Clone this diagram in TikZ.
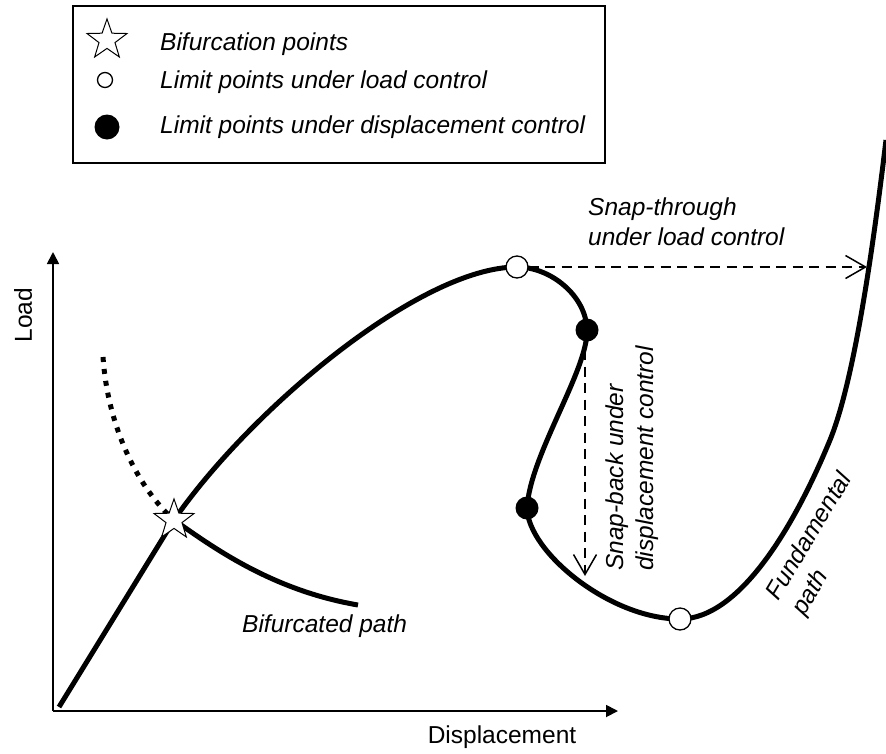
\documentclass[tikz,border=0pt]{standalone}
\usepackage{fontspec}
\setmainfont{Liberation Sans}
\usetikzlibrary{arrows.meta,shapes.geometric}
\begin{document}
\begin{tikzpicture}[x=1pt,y=-1pt,
  curve/.style={line width=5pt},
  axisline/.style={line width=1.8pt,-{Triangle[length=12pt,width=12pt]}},
  snaparrow/.style={line width=1.5pt,dash pattern=on 10pt off 6.5pt,-{Straight Barb[length=20pt,width=23pt,line width=1.5pt]}},
  hollowpt/.style={circle,draw,line width=1.3pt,fill=white,minimum size=22pt,inner sep=0pt},
  filledpt/.style={circle,fill=black,minimum size=23pt,inner sep=0pt},
  starpt/.style={star,star points=5,star point ratio=2.5,draw,fill=white,line width=1pt,minimum size=42pt,inner sep=0pt},
  lbl/.style={font=\fontsize{24.5}{30}\selectfont\itshape,inner sep=0pt},
  axlbl/.style={font=\fontsize{24.5}{30}\selectfont,inner sep=0pt}
]
\useasboundingbox (0,0) rectangle (886,753);
% legend
\draw[line width=1.3pt] (73,6) rectangle (605,163);
\node[starpt] (lstar) at (107,40) {};
\node[hollowpt,minimum size=15pt] (lhollow) at (105,80) {};
\node[filledpt,minimum size=25pt] (lfilled) at (107,127) {};
\node[lbl,anchor=base west] (t1) at (160,50) {Bifurcation points};
\node[lbl,anchor=base west] (t2) at (160,88) {Limit points under load control};
\node[lbl,anchor=base west] (t3) at (160,133) {Limit points under displacement control};
% coordinates
\coordinate (O) at (53,711);
\coordinate (ytop) at (53,252);
\coordinate (xend) at (618,711);
\coordinate (start) at (59,707);
\coordinate (B) at (174,520);
\coordinate (L1) at (517,267);
\coordinate (D1) at (587,330);
\coordinate (D2) at (527,508);
\coordinate (L2) at (680,619);
\coordinate (mid) at (830,440);
\coordinate (fundend) at (886,140);
\coordinate (bifend) at (358,605);
\coordinate (dotend) at (103,357);
\coordinate (stend) at (867,267);
\coordinate (sbstart) at (585,350);
\coordinate (sbend) at (585,576);
% axes
\draw[axisline] (O) -- (ytop);
\draw[axisline] (O) -- (xend);
% curves
\draw[curve] (start) -- (B) .. controls (250,410) and (420,267) .. (L1)
  .. controls (550,267) and (586,295) .. (D1)
  .. controls (588,370) and (530,455) .. (D2)
  .. controls (528,552) and (610,619) .. (L2)
  .. controls (740,619) and (795,525) .. (mid)
  .. controls (855,379) and (874,240) .. (fundend);
\draw[curve] (B) .. controls (210,545) and (270,590) .. (bifend);
\draw[line width=5pt,dash pattern=on 5pt off 7pt] (dotend) .. controls (108,430) and (140,490) .. (B);
% points
\node[hollowpt] (lp1) at (L1) {};
\node[filledpt] (dp1) at (D1) {};
\node[filledpt] (dp2) at (D2) {};
\node[hollowpt] (lp2) at (L2) {};
\node[starpt] (bif) at (B) {};
% arrows
\draw[snaparrow] (lp1.east) -- (stend);
\draw[snaparrow] (sbstart) -- (sbend);
% labels
\node[axlbl,rotate=90] (loadlbl) at (23,315) {Load};
\node[axlbl,anchor=base] (displbl) at (502,743) {Displacement};
\node[lbl,anchor=base west] (biflbl) at (242,632) {Bifurcated path};
\node[lbl,align=left,anchor=west] (stlbl) at (588,222) {Snap-through\\under load control};
\node[lbl,align=left,rotate=90,anchor=west] (sblbl) at (632,571) {Snap-back under\\displacement control};
\node[lbl,align=left,rotate=59,anchor=west] (fplbl) at (786,606) {Fundamental\\path};
\end{tikzpicture}
\end{document}
